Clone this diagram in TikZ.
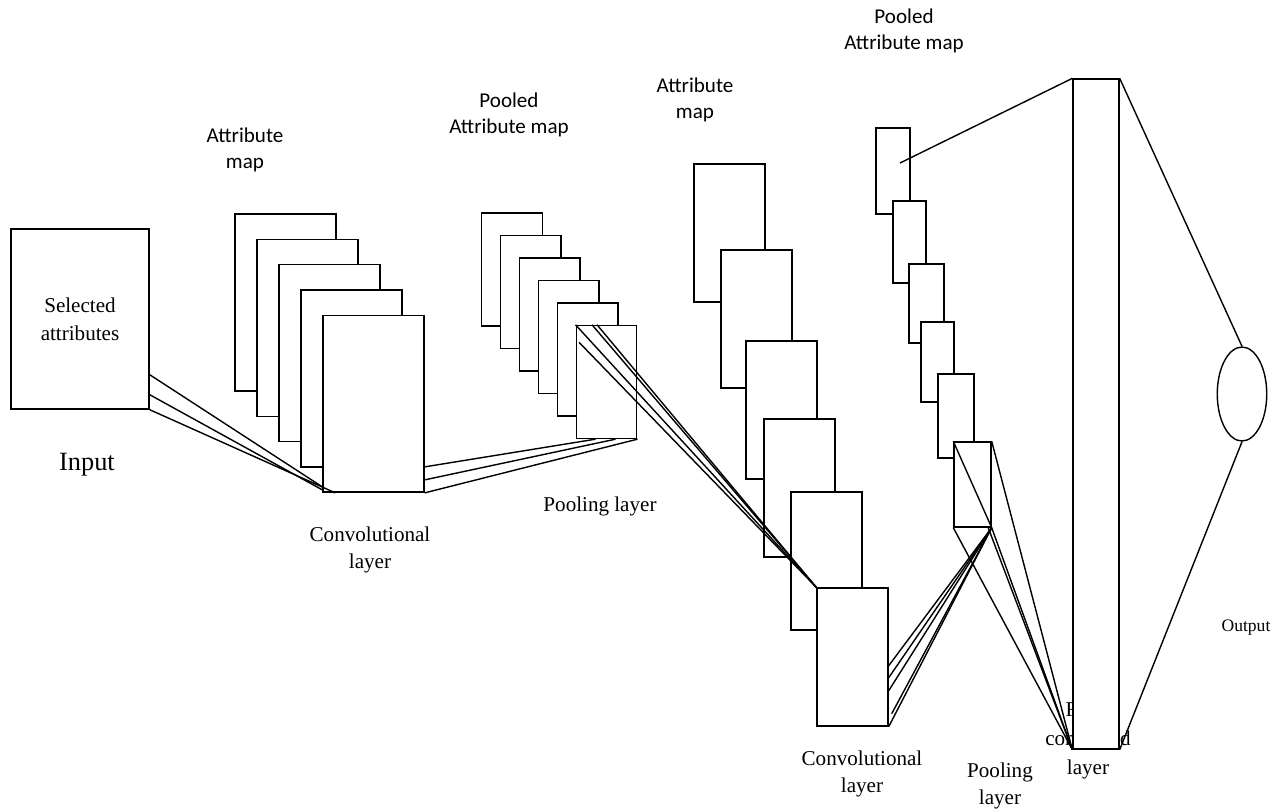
\documentclass[tikz,border=0pt]{standalone}
\usepackage{fontspec}
\setmainfont{Liberation Serif}
\newfontfamily\calibri{Carlito}
\usetikzlibrary{positioning,shapes.geometric}

\tikzset{
  fmap/.style={draw, fill=white, inner sep=0pt},
  convA/.style={fmap, minimum width=2.02cm, minimum height=3.54cm},
  poolA/.style={fmap, minimum width=1.21cm, minimum height=2.26cm},
  convB/.style={fmap, minimum width=1.42cm, minimum height=2.76cm},
  poolB/.style 2 args={fmap, minimum width=#1, minimum height=#2},
  title/.style={font=\calibri\fontsize{12}{15}\selectfont, align=center},
  caption/.style={font=\fontsize{12}{15.5}\selectfont, align=center},
}

\begin{document}
\begin{tikzpicture}[x=0.02cm, y=-0.02cm, line width=0.8pt, node distance=1cm, on grid]
			\useasboundingbox (0,0) rectangle (1282,809);
			% input
			\node[fmap, minimum width=2.76cm, minimum height=3.6cm, align=center,
			      font=\fontsize{12}{16}\selectfont] (in) at (80,319) {Selected\\attributes};
			\node[caption, font=\fontsize{15}{18}\selectfont] (inlbl) at (87,465) {Input};
			% first convolution
			\node[convA] (a1) at (285.5,302.5) {};
			\foreach \i [count=\j from 2] in {1,...,4}
				\node[convA, below right=0.506cm and 0.44cm of a\i] (a\j) {};
			% first pooling
			\node[poolA] (p1) at (512,269.5) {};
			\foreach \i [count=\j from 2] in {1,...,5}
				\node[poolA, below right=0.45cm and 0.378cm of p\i] (p\j) {};
			% second convolution
			\node[convB] (c1) at (729.5,233) {};
			\node[convB] (c2) at (756.5,319) {};
			\node[convB] (c3) at (781.5,410) {};
			\node[convB] (c4) at (799.5,488) {};
			\node[convB] (c5) at (826.5,561) {};
			\node[convB] (c6) at (852.5,657) {};
			% second pooling
			\node[poolB={0.68cm}{1.72cm}] (q1) at (893,171) {};
			\node[poolB={0.66cm}{1.64cm}] (q2) at (909.5,242) {};
			\node[poolB={0.70cm}{1.58cm}] (q3) at (926.5,303.5) {};
			\node[poolB={0.66cm}{1.60cm}] (q4) at (937.5,362) {};
			\node[poolB={0.72cm}{1.68cm}] (q5) at (956,416) {};
			\node[poolB={0.74cm}{1.70cm}] (q6) at (972.5,484.5) {};
			% fully connected and output
			\node[caption, font=\fontsize{12}{16.5}\selectfont] (fclbl) at (1088,740) {Fully\\connected\\layer};
			\node[fmap, minimum width=0.92cm, minimum height=13.4cm] (fc) at (1096,414) {};
			\node[draw, ellipse, minimum width=0.99cm, minimum height=1.88cm, inner sep=0pt] (out) at (1242,394) {};
			\node[caption, font=\fontsize{10}{12}\selectfont] (outlbl) at (1246,628) {Output};
			% labels
			\node[title] (t1) at (245,150) {Attribute\\map};
			\node[title] (t2) at (509,115) {Pooled\\Attribute map};
			\node[title] (t3) at (695,100) {Attribute\\map};
			\node[title] (t4) at (904,31) {Pooled\\Attribute map};
			\node[caption] (l1) at (370,550) {Convolutional\\layer};
			\node[caption] (l2) at (600,506) {Pooling layer};
			\node[caption] (l3) at (862,774) {Convolutional\\layer};
			\node[caption] (l4) at (1000,786) {Pooling\\layer};
			\path
			([yshift=0.7cm]in.south east) edge ([yshift=0.12cm]a5.south west)
			([yshift=0.3cm]in.south east) edge ([yshift=0.06cm]a5.south west)
			(in.south east) edge ([xshift=0.26cm]a5.south west)
			([yshift=0.52cm]a5.south east) edge ([xshift=0.4cm]p6.south west)
			([yshift=0.26cm]a5.south east) edge ([xshift=0.8cm]p6.south west)
			(a5.south east) edge (p6.south east)
			(p6.north west) edge (c6.north west)
			([xshift=0.33cm]p6.north west) edge (c6.north west)
			([xshift=0.43cm]p6.north west) edge (c6.north west)
			([shift={(0.07cm,-0.35cm)}]p6.north west) edge (c6.north west)
			([yshift=1.22cm]c6.south east) edge (q6.south east)
			([yshift=0.98cm]c6.south east) edge (q6.south east)
			([yshift=0.72cm]c6.south east) edge (q6.south east)
			([shift={(0.06cm,0.26cm)}]c6.south east) edge (q6.south east)
			(c6.south east) edge (q6.south east)
			(q6.north west) edge (q6.south east)
			(q6.south west) edge (fc.south west)
			(q6.north east) edge (fc.south west)
			([xshift=-0.07cm]q6.south east) edge (fc.south west)
			(q6.south east) edge (fc.south west)
			([shift={(0.14cm,0.16cm)}]q1.center) edge (fc.north west)
			(fc.north east) edge (out.north)
			(out.south) edge (fc.south east);
		\end{tikzpicture}
\end{document}
